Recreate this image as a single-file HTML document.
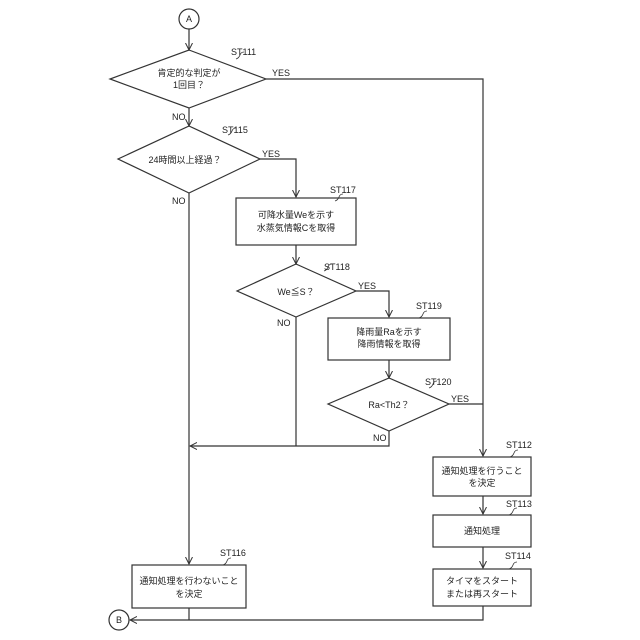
<!DOCTYPE html>
<html><head><meta charset="utf-8"><style>
html,body{margin:0;padding:0;background:#fff;}
svg{display:block;}
text{font-family:"Liberation Sans","Noto Sans CJK JP",sans-serif;font-size:9px;fill:#222;}
</style></head><body>
<svg width="640" height="640" viewBox="0 0 640 640" xmlns="http://www.w3.org/2000/svg">
<defs>
<marker id="a" markerWidth="8" markerHeight="8" refX="7" refY="4" orient="auto" markerUnits="userSpaceOnUse">
<path d="M0,0.5 L7,4 L0,7.5" fill="none" stroke="#333" stroke-width="1"/>
</marker>
</defs>
<g fill="none" stroke="#333" stroke-width="1.2">
<circle cx="189" cy="19" r="10"/>
<circle cx="119" cy="620" r="10"/>
<line x1="189" y1="29" x2="189" y2="50" marker-end="url(#a)"/>
<polygon points="189,50 266,79 189,108 110,79"/>
<polyline points="266,79 483,79 483,456" marker-end="url(#a)"/>
<line x1="189" y1="108" x2="189" y2="126" marker-end="url(#a)"/>
<polygon points="189,126 260,159 189,193 118,159"/>
<polyline points="260,159 296,159 296,197" marker-end="url(#a)"/>
<line x1="189" y1="193" x2="189" y2="564" marker-end="url(#a)"/>
<rect x="236" y="198" width="120" height="47"/>
<line x1="296" y1="245" x2="296" y2="264" marker-end="url(#a)"/>
<polygon points="296,264 356,291 296,317 237,291"/>
<polyline points="356,291 389,291 389,317" marker-end="url(#a)"/>
<line x1="296" y1="317" x2="296" y2="446"/>
<rect x="328" y="318" width="122" height="42"/>
<line x1="389" y1="360" x2="389" y2="378" marker-end="url(#a)"/>
<polygon points="389,378 449,404 389,431 328,404"/>
<line x1="449" y1="404" x2="483" y2="404"/>
<polyline points="389,431 389,446 190,446" marker-end="url(#a)"/>
<rect x="433" y="457" width="98" height="39"/>
<line x1="483" y1="496" x2="483" y2="514" marker-end="url(#a)"/>
<rect x="433" y="515" width="98" height="32"/>
<line x1="483" y1="547" x2="483" y2="568" marker-end="url(#a)"/>
<rect x="433" y="569" width="98" height="37"/>
<polyline points="483,606 483,620 130,620" marker-end="url(#a)"/>
<rect x="132" y="565" width="114" height="43"/>
<line x1="189" y1="608" x2="189" y2="620"/>
<path d="M236,59 q3,-1 4,-4 q1,-3 4,-3" stroke-width="0.8"/>
<path d="M228,135 q3,-1 4,-4 q1,-3 4,-3" stroke-width="0.8"/>
<path d="M335,201 q3,-1 4,-4 q1,-3 4,-3" stroke-width="0.8"/>
<path d="M324,271 q3,-1 4,-4 q1,-3 4,-3" stroke-width="0.8"/>
<path d="M419,318 q3,-1 4,-4 q1,-3 4,-3" stroke-width="0.8"/>
<path d="M429,388 q3,-1 4,-4 q1,-3 4,-3" stroke-width="0.8"/>
<path d="M510,457 q3,-1 4,-4 q1,-3 4,-3" stroke-width="0.8"/>
<path d="M509,515 q3,-1 4,-4 q1,-3 4,-3" stroke-width="0.8"/>
<path d="M509,569 q3,-1 4,-4 q1,-3 4,-3" stroke-width="0.8"/>
<path d="M223,565 q3,-1 4,-4 q1,-3 4,-3" stroke-width="0.8"/>
</g>
<text x="189" y="22" text-anchor="middle">A</text>
<text x="119" y="623" text-anchor="middle" font-size="8">B</text>
<text x="189" y="76" text-anchor="middle">肯定的な判定が</text>
<text x="189" y="88" text-anchor="middle">1回目？</text>
<text x="231" y="55">ST111</text>
<text x="272" y="76">YES</text>
<text x="172" y="120">NO</text>
<text x="222" y="133">ST115</text>
<text x="185" y="163" text-anchor="middle">24時間以上経過？</text>
<text x="262" y="157">YES</text>
<text x="172" y="204">NO</text>
<text x="330" y="193">ST117</text>
<text x="296" y="218" text-anchor="middle">可降水量Weを示す</text>
<text x="296" y="231" text-anchor="middle">水蒸気情報Cを取得</text>
<text x="324" y="270">ST118</text>
<text x="296" y="295" text-anchor="middle">We≦S？</text>
<text x="358" y="289">YES</text>
<text x="277" y="326">NO</text>
<text x="416" y="309">ST119</text>
<text x="389" y="335" text-anchor="middle">降雨量Raを示す</text>
<text x="389" y="347" text-anchor="middle">降雨情報を取得</text>
<text x="425" y="385">ST120</text>
<text x="389" y="408" text-anchor="middle">Ra&lt;Th2？</text>
<text x="451" y="402">YES</text>
<text x="373" y="441">NO</text>
<text x="506" y="448">ST112</text>
<text x="482" y="474" text-anchor="middle">通知処理を行うこと</text>
<text x="482" y="486" text-anchor="middle">を決定</text>
<text x="506" y="507">ST113</text>
<text x="482" y="534" text-anchor="middle">通知処理</text>
<text x="505" y="559">ST114</text>
<text x="482" y="584" text-anchor="middle">タイマをスタート</text>
<text x="482" y="597" text-anchor="middle">または再スタート</text>
<text x="220" y="556">ST116</text>
<text x="189" y="584" text-anchor="middle">通知処理を行わないこと</text>
<text x="189" y="597" text-anchor="middle">を決定</text>
</svg>
</body></html>
